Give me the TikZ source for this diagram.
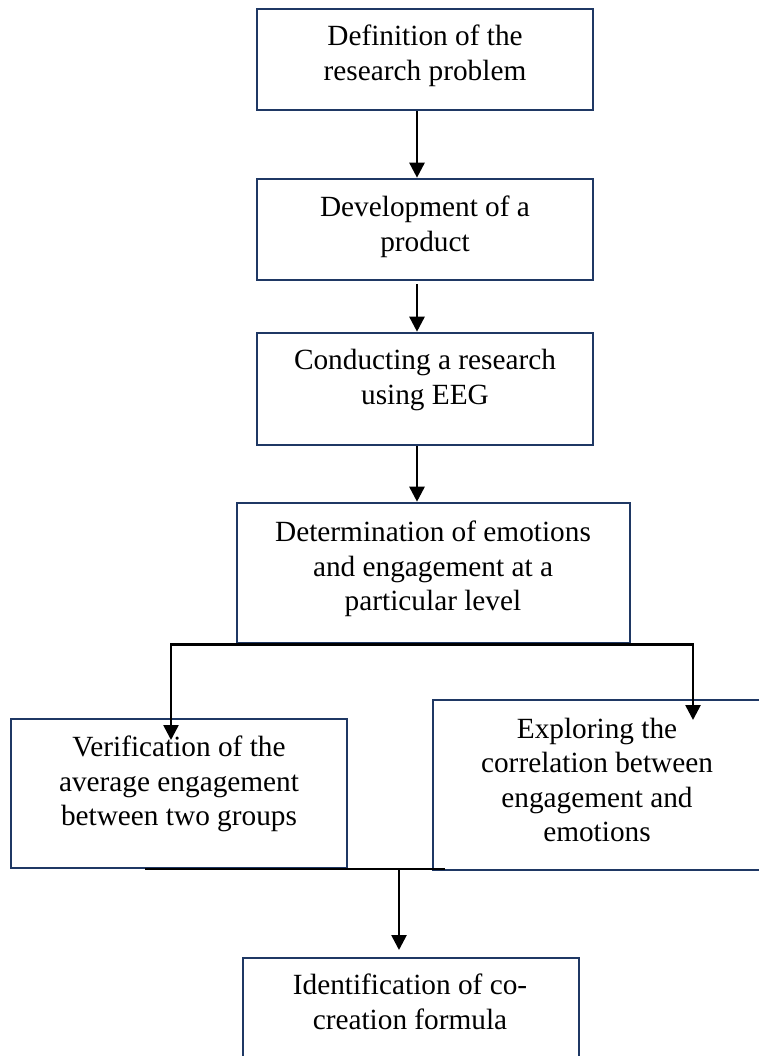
\documentclass[tikz,border=0pt]{standalone}
\usepackage{fontspec}
\setmainfont{Liberation Serif}
\usetikzlibrary{arrows.meta}
\definecolor{navy}{HTML}{1F3864}
\begin{document}
\begin{tikzpicture}[x=1pt,y=-1pt,
  box/.style={draw=navy, line width=2.6pt, rectangle, inner sep=0pt},
  txt/.style={align=center, inner sep=0pt, font=\fontsize{29.3}{34.5}\selectfont},
  arr/.style={line width=2.6pt, -{Triangle[width=15pt,length=15pt]}},
  ln/.style={line width=2.8pt}]
\useasboundingbox (0,0) rectangle (759,1056);
\clip (0,0) rectangle (759,1056);
% boxes
\node[box, minimum width=336pt, minimum height=101pt] (b1) at (425,59.5) {};
\node[box, minimum width=336pt, minimum height=101pt] (b2) at (425,229.5) {};
\node[box, minimum width=336pt, minimum height=112pt] (b3) at (425,389) {};
\node[box, minimum width=393pt, minimum height=140pt] (b4) at (433.5,573) {};
\node[box, minimum width=336pt, minimum height=149pt] (lb) at (179,793.5) {};
\node[box, minimum width=328pt, minimum height=170pt] (rb) at (597,785) {};
\node[box, minimum width=336pt, minimum height=112pt] (b7) at (411,1014) {};
% texts
\node[txt] (t1) at (425,56) {Definition of the\\research problem};
\node[txt] (t2) at (425,227) {Development of a\\product};
\node[txt] (t3) at (425,380) {Conducting a research\\using EEG};
\node[txt] (t4) at (433,569) {Determination of emotions\\and engagement at a\\particular level};
\node[txt] (tl) at (179,784) {Verification of the\\average engagement\\between two groups};
\node[txt] (tr) at (597,780) {Exploring the\\correlation between\\engagement and\\emotions};
\node[txt] (t7) at (410,1002) {Identification of co-\\creation formula};
% connector helpers
\coordinate (c1) at (417,0);
\coordinate (tL) at (171,740);
\coordinate (tR) at (693,720);
\coordinate (mL) at (145,869);
\coordinate (mR) at (445,869);
\coordinate (mJ) at (399,869);
\coordinate (tB) at (399,950);
% connectors
\draw[arr] (c1 |- b1.south) -- (c1 |- b2.north);
\draw[arr, shorten <=3pt] (c1 |- b2.south) -- (c1 |- b3.north);
\draw[arr] (c1 |- b3.south) -- (c1 |- b4.north);
\draw[arr] (b4.south) -| (tL);
\draw[arr] (b4.south) -| (tR);
\draw[ln] (mL) -- (mR);
\draw[arr] (mJ) -- (tB);
\end{tikzpicture}
\end{document}
